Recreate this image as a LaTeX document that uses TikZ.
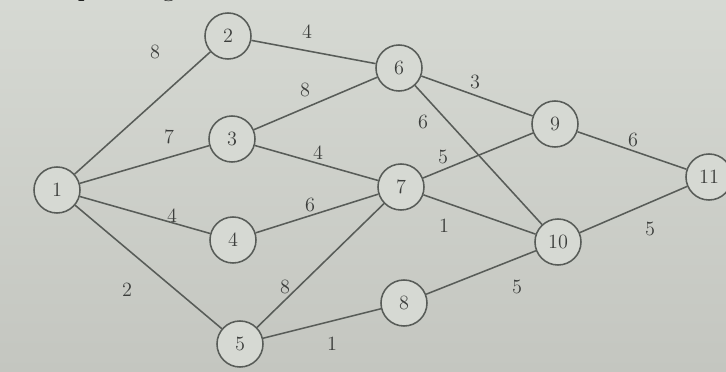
\documentclass[tikz,border=0pt]{standalone}
\usepackage{tikz}
\usetikzlibrary{positioning}
\definecolor{paper}{RGB}{214,217,211}
\definecolor{paperdark}{RGB}{196,198,192}
\definecolor{ink}{RGB}{88,92,88}
\definecolor{digit}{RGB}{60,62,60}

\begin{document}
\begin{tikzpicture}[
    x=0.025cm, y=-0.025cm,
    every node/.style={font=\Large, text=digit},
    vertex/.style={draw=ink, circle, line width=1.1pt, fill=paper,
                   minimum size=1.15cm, inner sep=0pt},
    wt/.style={inner sep=1pt},
    edge/.style={ink, line width=1.1pt},
    hdr/.style={anchor=base west, font=\fontsize{21.5}{26}\selectfont, text=black}
]
\useasboundingbox (0,0) rectangle (726,372);
\clip (0,0) rectangle (726,372);
\shade[top color=paper, bottom color=paperdark] (0,0) rectangle (726,372);
\node[hdr] (head) at (2,-4) {corresponding};

% vertices
\node[vertex] (n1) at (57,190) {1};
\node[vertex] (n2) at (228,36) {2};
\node[vertex] (n3) at (232,139) {3};
\node[vertex] (n4) at (233,240) {4};
\node[vertex] (n5) at (240,344) {5};
\node[vertex] (n6) at (399,68) {6};
\node[vertex] (n7) at (401,187) {7};
\node[vertex] (n8) at (404,303) {8};
\node[vertex] (n9) at (555,124) {9};
\node[vertex] (n10) at (558,242) {10};
\node[vertex] (n11) at (709,177) {11};

% edges with weights
\foreach \a/\b/\w/\lx/\ly in {
    1/2/8/155/52, 2/6/4/307/32, 1/3/7/169/137, 3/6/8/305/90,
    6/9/3/475/82, 6/10/6/423/122, 3/7/4/318/153, 7/9/5/443/157,
    9/11/6/633/140, 1/4/4/172/216, 4/7/6/310/205, 7/10/1/444/226,
    10/11/5/650/229, 1/5/2/127/290, 5/7/8/285/287, 5/8/1/332/344,
    8/10/5/517/287}
    {
    \draw[edge] (n\a) -- (n\b);
    \node[wt] (w\a-\b) at (\lx,\ly) {\w};
    }
\end{tikzpicture}
\end{document}
